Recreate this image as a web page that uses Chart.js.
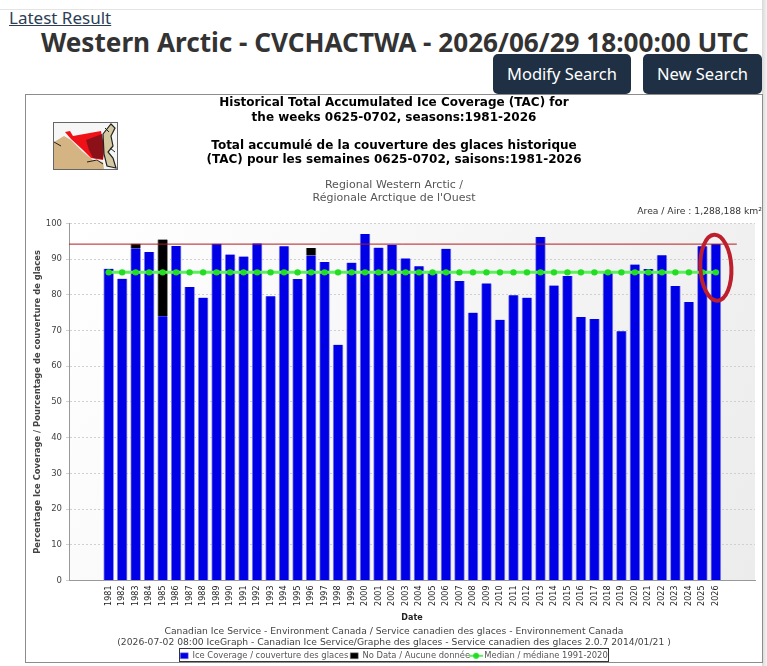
<!DOCTYPE html>
<html>
<head>
<meta charset="utf-8">
<title>Western Arctic TAC</title>
<script src="https://cdn.jsdelivr.net/npm/chart.js@4"></script>
<style>
  html, body { margin: 0; padding: 0; background: #fff; }
  body { width: 767px; height: 666px; position: relative; overflow: hidden; font-family: "Noto Sans", sans-serif; }
  .topline { position: absolute; left: 0; top: 9px; width: 767px; height: 1px; background: #e4e4e4; }
  .edge { position: absolute; left: 762px; top: 0; width: 5px; height: 666px; background: linear-gradient(to right, #d8d8d8, #f4f4f4); }
  .latest { position: absolute; left: 9px; top: 6px; font-size: 17px; line-height: 24px; color: #2c3e55; text-decoration: underline; }
  h1 { position: absolute; left: 41px; top: 24px; margin: 0; font-size: 26.15px; line-height: 36px; font-weight: 700; color: #333; white-space: nowrap; }
  .btn { position: absolute; top: 54px; height: 40px; line-height: 40px; text-align: center; background: #1f3044; color: #fff; font-size: 16.5px; border-radius: 5px; }
  .frame { position: absolute; left: 25px; top: 94px; width: 736px; height: 567px; border: 1px solid #8c8c8c; background: #fff; }
  canvas { position: absolute; left: 0; top: 0; }
  .region { position: absolute; left: 0; width: 736px; top: 84px; text-align: center; font: 11px/12.5px "DejaVu Sans", sans-serif; color: #555; }
  .area { position: absolute; right: 0; top: 110px; font: 9.2px/12px "DejaVu Sans", sans-serif; color: #333; white-space: nowrap; }
  .map { position: absolute; left: 27px; top: 27px; }
</style>
</head>
<body>
<div class="topline"></div>
<div class="edge"></div>
<a class="latest">Latest Result</a>
<h1>Western Arctic - CVCHACTWA - 2026/06/29 18:00:00 UTC</h1>
<div class="btn" style="left:493px;width:138px">Modify Search</div>
<div class="btn" style="left:643px;width:119px">New Search</div>
<div class="frame">
  <canvas id="iceChart" width="736" height="567"></canvas>
  <svg class="map" width="65" height="48" viewBox="0 0 65 48">
    <rect x="0.5" y="0.5" width="64" height="47" fill="#f6f6f6" stroke="#666"/>
    <path d="M1 20 L11 14 L18 18 L30 30 L40 38 L50 40 L51 47 L1 47 Z" fill="#d4b483"/>
    <path d="M12 10 L17 9 L20 14 L48 9 L51 28 L50 38 L38 36 L30 28 L18 17 Z" fill="#f01018"/>
    <path d="M33 18 L49 12 L51 26 L50 37 L40 36 L36 28 Z" fill="#8c1018"/>
    <path d="M50 12 L58 2 L62 6 L58 14 L60 24 L55 30 L60 36 L63 46 L54 44 L51 32 Z" fill="#d4c8a0" stroke="#222" stroke-width="1.2"/>
    <path d="M1 20 L8 24 M34 40 L44 38 L50 42 M52 6 L56 10 M57 26 L62 30" fill="none" stroke="#222" stroke-width="1"/>
  </svg>
  <div class="region">Regional Western Arctic /<br>Régionale Arctique de l'Ouest</div>
  <div class="area">Area / Aire : 1,288,188 km²</div>
</div>

<script>
const years = [1981, 1982, 1983, 1984, 1985, 1986, 1987, 1988, 1989, 1990, 1991, 1992, 1993, 1994, 1995, 1996, 1997, 1998, 1999, 2000, 2001, 2002, 2003, 2004, 2005, 2006, 2007, 2008, 2009, 2010, 2011, 2012, 2013, 2014, 2015, 2016, 2017, 2018, 2019, 2020, 2021, 2022, 2023, 2024, 2025, 2026];
const iceCoverage = [87.3, 84.5, 93.0, 92.0, 74.0, 93.7, 82.2, 79.2, 94.3, 91.3, 90.7, 94.4, 79.6, 93.6, 84.4, 91.0, 89.2, 66.0, 89.0, 97.0, 93.2, 94.0, 90.2, 88.0, 86.4, 92.9, 83.9, 75.0, 83.2, 73.0, 79.9, 79.2, 96.2, 82.6, 85.3, 73.8, 73.2, 86.1, 69.8, 88.5, 87.2, 91.1, 82.5, 78.0, 93.6, 94.2];
const noData = [0, 0, 1.3, 0, 21.5, 0, 0, 0, 0, 0, 0, 0, 0, 0, 0, 2.1, 0, 0, 0, 0, 0, 0, 0, 0, 0, 0, 0, 0, 0, 0, 0, 0, 0, 0, 0, 0, 0, 0, 0, 0, 0, 0, 0, 0, 0, 0];
const median = [86.3, 86.3, 86.3, 86.3, 86.3, 86.3, 86.3, 86.3, 86.3, 86.3, 86.3, 86.3, 86.3, 86.3, 86.3, 86.3, 86.3, 86.3, 86.3, 86.3, 86.3, 86.3, 86.3, 86.3, 86.3, 86.3, 86.3, 86.3, 86.3, 86.3, 86.3, 86.3, 86.3, 86.3, 86.3, 86.3, 86.3, 86.3, 86.3, 86.3, 86.3, 86.3, 86.3, 86.3, 86.3, 86.3];
const currentLevel = 94.2;
const xRange = [1978.06, 2028.9];
const refLineEnd = 2027.55;
const yTicks = [0, 10, 20, 30, 40, 50, 60, 70, 80, 90, 100];

const titleLines = [
    'Historical Total Accumulated Ice Coverage (TAC) for',
    'the weeks 0625-0702, seasons:1981-2026',
    '',
    'Total accumulé de la couverture des glaces historique',
    '(TAC) pour les semaines 0625-0702, saisons:1981-2026'
];
const footerLines = [
    'Canadian Ice Service - Environment Canada / Service canadien des glaces - Environnement Canada',
    '(2026-07-02 08:00 IceGraph - Canadian Ice Service/Graphe des glaces - Service canadien des glaces 2.0.7 2014/01/21 )'
];

/* legend symbol for the median: a line with a dot on it */
const medianSymbol = document.createElement('canvas');
medianSymbol.width = 14;
medianSymbol.height = 8;
(() => {
    const c = medianSymbol.getContext('2d');
    c.fillStyle = '#5df05d';
    c.fillRect(0, 3, 14, 2);
    c.fillStyle = '#22dd22';
    c.beginPath();
    c.arc(7, 4, 3, 0, Math.PI * 2);
    c.fill();
})();

/* plot background, legend box and the hand drawn ellipse */
const decorations = {
    id: 'decorations',
    beforeDraw(chart) {
        const { ctx, chartArea: a } = chart;
        const g = ctx.createLinearGradient(a.left, a.top, a.right, a.bottom);
        g.addColorStop(0, '#ffffff');
        g.addColorStop(1, '#ececec');
        ctx.save();
        ctx.fillStyle = g;
        ctx.fillRect(a.left, a.top, a.width, a.height);
        ctx.restore();
    },
    afterDraw(chart) {
        const { ctx, legend } = chart;
        const x = chart.scales.x, y = chart.scales.y;
        const hits = legend.legendHitBoxes;
        const last = hits[hits.length - 1];
        const left = hits[0].left - 1;
        const right = last.left + last.width + 1;
        ctx.save();
        ctx.strokeStyle = '#333';
        ctx.lineWidth = 1;
        ctx.strokeRect(Math.round(left) + 0.5, Math.round(hits[0].top) - 3.5, Math.round(right - left), 13);
        ctx.strokeStyle = '#bd1f2d';
        ctx.lineWidth = 4;
        ctx.beginPath();
        ctx.ellipse(x.getPixelForValue(2026), y.getPixelForValue(87.6), 15.5, 33, -0.05, 0, Math.PI * 2);
        ctx.stroke();
        ctx.restore();
    }
};

new Chart(document.getElementById('iceChart'), {
    data: {
        labels: years,
        datasets: [
            {
                type: 'bar',
                label: 'Ice Coverage / couverture des glaces',
                data: iceCoverage,
                backgroundColor: '#0000e6',
                borderColor: '#8f8fe8',
                borderWidth: { left: 1, right: 1, top: 0, bottom: 0 },
                borderSkipped: false,
                barThickness: 10,
                pointStyle: 'rect',
                stack: 'ice',
                order: 2
            },
            {
                type: 'bar',
                label: 'No Data / Aucune donnée',
                data: noData,
                backgroundColor: '#000000',
                borderColor: '#8a8a8a',
                borderWidth: { left: 1, right: 1, top: 0, bottom: 0 },
                borderSkipped: false,
                barThickness: 10,
                pointStyle: 'rect',
                stack: 'ice',
                order: 2
            },
            {
                type: 'line',
                label: 'Median / médiane 1991-2020',
                data: median,
                borderColor: '#5df05d',
                backgroundColor: '#22dd22',
                borderWidth: 3,
                pointRadius: 3.2,
                pointBackgroundColor: '#22dd22',
                pointBorderWidth: 0,
                pointStyle: 'circle',
                stack: 'median',
                order: 0
            },
            {
                type: 'line',
                label: 'Reference',
                data: [{ x: xRange[0], y: currentLevel }, { x: refLineEnd, y: currentLevel }],
                borderColor: '#b01c22',
                borderWidth: 1,
                pointRadius: 0,
                stack: 'ref',
                order: 1
            }
        ]
    },
    plugins: [decorations],
    options: {
        responsive: false,
        animation: false,
        layout: { padding: { left: 7, right: 7, top: 0, bottom: -8 } },
        plugins: {
            title: {
                display: true,
                text: titleLines,
                color: '#000',
                font: { family: 'DejaVu Sans', size: 12, weight: 'bold', lineHeight: 1.19 },
                padding: { top: 1, bottom: 56 }
            },
            subtitle: {
                display: true,
                position: 'bottom',
                weight: 500,
                text: footerLines,
                color: '#444',
                font: { family: 'DejaVu Sans', size: 9.2, lineHeight: 1.2 },
                padding: { top: 4, bottom: 1 }
            },
            legend: {
                position: 'bottom',
                labels: {
                    usePointStyle: true,
                    pointStyleWidth: 8,
                    boxHeight: 6,
                    padding: 2,
                    color: '#555',
                    font: { family: 'DejaVu Sans', size: 8.4 },
                    filter: item => item.text !== 'Reference',
                    sort: (a, b) => a.datasetIndex - b.datasetIndex,
                    generateLabels(chart) {
                        const items = Chart.defaults.plugins.legend.labels.generateLabels(chart);
                        items.forEach(item => {
                            if (item.datasetIndex === 2) item.pointStyle = medianSymbol;
                        });
                        return items;
                    }
                }
            },
            tooltip: { enabled: false }
        },
        scales: {
            x: {
                type: 'linear',
                stacked: true,
                offset: false,
                min: xRange[0],
                max: xRange[1],
                afterBuildTicks(scale) { scale.ticks = years.map(v => ({ value: v })); },
                afterFit(scale) { scale.height = 42; },
                grid: { display: false, tickLength: 3 },
                border: { color: '#999' },
                ticks: {
                    autoSkip: false,
                    minRotation: 90,
                    maxRotation: 90,
                    padding: 2,
                    color: '#222',
                    font: { family: 'DejaVu Sans', size: 8 },
                    callback: v => String(v)
                },
                title: {
                    display: true,
                    text: 'Date',
                    color: '#222',
                    padding: 0,
                    font: { family: 'DejaVu Sans', size: 8, weight: 'bold' }
                }
            },
            y: {
                stacked: true,
                min: 0,
                max: 100,
                afterBuildTicks(scale) { scale.ticks = yTicks.map(v => ({ value: v })); },
                afterFit(scale) { scale.width = 36; },
                grid: { color: '#d0d0d0', tickLength: 3 },
                border: { color: '#999', dash: [2, 2] },
                ticks: { color: '#444', padding: 4, font: { family: 'DejaVu Sans', size: 8.5 } },
                title: {
                    display: true,
                    text: 'Percentage Ice Coverage / Pourcentage de couverture de glaces',
                    color: '#444',
                    padding: 0,
                    font: { family: 'DejaVu Sans', size: 8.4, weight: 'bold' }
                }
            }
        }
    }
});
</script>
</body>
</html>
